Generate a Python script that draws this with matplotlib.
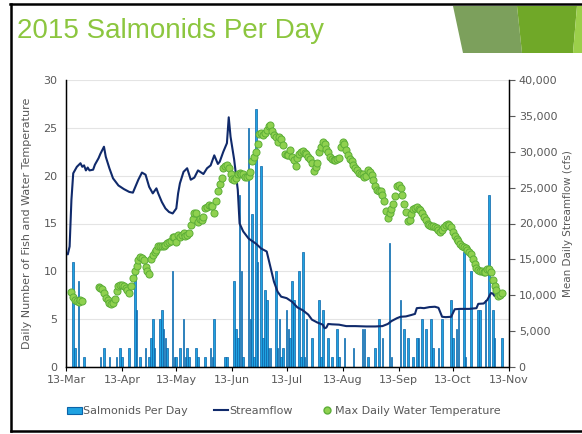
import numpy as np
import pandas as pd
import matplotlib
matplotlib.use("Agg")
import matplotlib.pyplot as plt
import matplotlib.dates as mdates
from matplotlib.patches import Patch, Polygon
from matplotlib.lines import Line2D

# days counted from 13 March 2015
fish_day = [4, 5, 7, 10, 19, 21, 24, 28, 30, 31, 35, 38, 39, 41, 44, 46, 47, 48, 49,
            52, 53, 54, 55, 56, 59, 60, 61, 63, 65, 66, 67, 68, 72, 73, 77, 80, 81, 82,
            88, 89, 93, 94, 95, 96, 97, 98, 101, 102, 103, 104, 105, 106, 108, 109, 110,
            111, 112, 113, 116, 117, 118, 119, 120, 122, 123, 124, 125, 126, 129, 130,
            131, 132, 133, 136, 140, 141, 142, 145, 147, 150, 151, 154, 159, 164, 165,
            167, 171, 173, 175, 179, 180, 185, 187, 189, 192, 194, 195, 197, 199, 202,
            203, 206, 208, 213, 214, 216, 217, 220, 221, 224, 228, 229, 232, 234, 236,
            237, 241]
fish_count = [11, 2, 9, 1, 1, 2, 1, 1, 2, 1, 2, 10, 6, 1, 2, 1, 3, 5, 2,
              5, 6, 4, 3, 2, 10, 1, 1, 2, 5, 1, 2, 1, 2, 1, 1, 2, 1, 5,
              1, 1, 9, 4, 3, 18, 10, 1, 25, 5, 16, 1, 27, 11, 21, 3, 8,
              7, 2, 2, 10, 2, 5, 1, 2, 6, 4, 3, 9, 7, 10, 1,
              12, 1, 5, 3, 7, 1, 6, 3, 1, 4, 1, 3, 2, 4, 4,
              1, 2, 5, 3, 13, 1, 7, 4, 3, 1, 3, 3, 5, 4, 5,
              2, 2, 5, 7, 3, 4, 6, 12, 1, 10, 6, 6, 7, 18, 6,
              3, 3]

flow_day = [0, 1, 2, 3, 4, 6, 8, 9, 10, 11, 12, 13, 15, 16, 18, 19, 21, 22, 24, 26,
            29, 32, 35, 37, 38, 40, 42, 44, 46, 48, 50, 51, 53, 55, 57, 59, 61, 62,
            63, 65, 67, 69, 71, 73, 76, 78, 80, 82, 84, 85, 87, 89, 90, 91, 93, 95,
            96, 98, 101, 105, 108, 111, 113, 115, 117, 119, 122, 125, 128, 131, 134,
            136, 139, 142, 143, 144, 145, 147, 151, 155, 160, 166, 171, 175, 178,
            180, 183, 185, 188, 191, 193, 194, 196, 198, 201, 204, 206, 208, 210,
            213, 215, 218, 220, 223, 227, 228, 231, 233, 235, 236, 237, 238]
flow_cfs = [15900, 15700, 16800, 23300, 27000, 27900, 28400, 27900, 28100, 27400,
            27800, 27400, 27500, 28200, 29100, 29700, 30700, 29300, 27700, 26300,
            25300, 24800, 24400, 24300, 24900, 26100, 27100, 26800, 25100, 24200,
            24900, 24200, 23000, 22100, 21600, 21400, 22100, 24200, 25600, 27200,
            27700, 26100, 26400, 27400, 26900, 27700, 28100, 29500, 28300, 28600,
            30000, 31200, 34800, 32100, 28900, 24700, 20000, 18900, 17900, 17200,
            16500, 16100, 14000, 11900, 10500, 9800, 9600, 9100, 8300, 7900, 7300,
            6600, 6200, 5900, 5400, 5500, 6000, 5950, 5900, 5700, 5700, 5650, 5650,
            5700, 6000, 6400, 6800, 7000, 7050, 7250, 7400, 8200, 8250, 8200, 8350,
            8400, 8250, 7000, 6950, 7000, 8050, 8100, 8100, 8100, 8200, 8800, 8850,
            9350, 10300, 10250, 9900, 9950]

temp_day = list(range(3, 10)) + list(range(18, 242))
temp_val = [7.8, 7.3, 7.0, 6.9, 6.8, 7.0, 6.9,
            8.4, 8.3, 8.2, 7.7, 7.2, 7.0, 6.7, 6.6, 6.7, 7.1, 7.9, 8.5, 8.6, 8.6, 8.5,
            8.3, 8.0, 7.7, 8.5, 9.3, 10.0, 10.6, 11.2, 11.5, 11.4, 11.2, 10.5, 10.0,
            9.7, 11.3, 11.7, 12.0, 12.2, 12.6, 12.6, 12.7, 12.6, 12.8, 13.0, 13.1,
            13.2, 13.6, 13.6, 13.1, 13.8, 13.6, 13.8, 14.0, 13.7, 13.8, 14.0, 14.8,
            15.5, 16.1, 16.1, 15.2, 15.5, 15.4, 15.7, 16.6, 16.7, 16.9, 16.8, 16.8,
            16.1, 17.4, 18.4, 19.1, 19.8, 20.8, 21.0, 21.1, 20.8, 20.2, 19.7, 19.5,
            19.8, 20.2, 20.3, 20.2, 20.2, 19.9, 19.9, 20.0, 20.4, 21.5, 22.0, 22.5,
            23.3, 24.4, 24.5, 24.2, 24.5, 24.8, 25.2, 25.3, 24.7, 24.3, 24.0, 23.5,
            24.0, 23.8, 23.2, 22.3, 22.2, 22.2, 22.7, 22.0, 21.6, 21.0, 21.8, 22.3,
            22.5, 22.6, 22.4, 22.3, 21.9, 21.7, 21.3, 20.5, 20.9, 21.3, 22.5, 23.0,
            23.5, 23.3, 22.8, 22.5, 22.0, 21.7, 21.6, 21.6, 21.7, 21.8, 23.0, 23.5,
            23.3, 22.7, 22.2, 21.7, 21.5, 21.1, 20.8, 20.6, 20.3, 20.2, 20.2, 19.9,
            20.0, 20.6, 20.4, 20.1, 19.5, 18.9, 18.5, 18.4, 18.4, 18.0, 17.4, 16.3,
            15.6, 16.1, 16.5, 17.0, 17.9, 18.9, 19.0, 18.7, 18.0, 17.0, 16.2, 15.3,
            15.4, 16.0, 16.5, 16.6, 16.7, 16.5, 16.4, 16.1, 15.7, 15.4, 15.0, 14.8,
            14.7, 14.7, 14.6, 14.5, 14.3, 14.1, 14.3, 14.6, 14.8, 14.9, 14.8, 14.6,
            14.1, 13.7, 13.4, 13.2, 12.9, 12.7, 12.5, 12.4, 12.2, 12.0, 11.8, 11.3,
            10.8, 10.4, 10.1, 10.0, 10.0, 9.9, 9.9, 10.2, 10.2, 9.9, 9.1, 8.5, 8.0,
            7.4, 7.5, 7.7]

start = pd.Timestamp("2015-03-13")
end = pd.Timestamp("2015-11-13")
fish_dates = start + pd.to_timedelta(fish_day, unit="D")
flow_dates = start + pd.to_timedelta(flow_day, unit="D")
temp_dates = start + pd.to_timedelta(temp_day, unit="D")

grey = "#595959"
bar_face = "#1FA2E1"
bar_edge = "#0B63A8"
flow_col = "#102A6B"
dot_face = "#8FD14F"
dot_edge = "#5DAE38"

plt.rcParams["font.family"] = ["DejaVu Sans"]

fig = plt.figure(figsize=(5.82, 4.34), dpi=100)
ax = fig.add_axes([66 / 582, 1 - 367 / 434, (509 - 66) / 582, (367 - 80) / 434])

ax.bar(fish_dates, fish_count, width=0.9, color=bar_face, edgecolor=bar_edge,
       linewidth=0.5, zorder=2)
ax.set_ylim(0, 30)
ax.set_yticks(range(0, 31, 5))
ax.yaxis.grid(True, color="#E4E4E4", linewidth=0.8)
ax.set_axisbelow(True)
ax.set_xlim(start, end)
ax.set_xticks(pd.date_range(start, end, freq=pd.DateOffset(months=1)))
ax.xaxis.set_major_formatter(mdates.DateFormatter("%d-%b"))
ax.tick_params(axis="x", colors=grey, labelsize=8, length=3, width=0.8, pad=3)
ax.tick_params(axis="x", color="black")
ax.tick_params(axis="y", colors=grey, labelsize=8, length=0, pad=6)
ax.set_ylabel("Daily Number of Fish and Water Temperature", color=grey, fontsize=8,
              labelpad=8)
for s in ["left", "bottom", "right"]:
    ax.spines[s].set_color("black")
    ax.spines[s].set_linewidth(1.0)
ax.spines["top"].set_visible(False)

ax2 = ax.twinx()
ax2.plot(flow_dates, flow_cfs, color=flow_col, linewidth=1.5)
ax2.set_ylim(0, 40000)
ax2.set_yticks(range(0, 40001, 5000))
ax2.set_yticklabels([f"{v:,}" for v in range(0, 40001, 5000)])
ax2.tick_params(axis="y", colors=grey, labelsize=8, length=4, width=0.8, pad=3)
ax2.set_ylabel("Mean Daily Streamflow (cfs)", color=grey, fontsize=7.5, labelpad=4)
ax2.spines["top"].set_visible(False)
ax2.spines["right"].set_color("black")

ax3 = ax.twinx()
ax3.scatter(temp_dates, temp_val, s=26, color=dot_face, edgecolor=dot_edge,
            linewidth=0.7, zorder=3)
ax3.set_ylim(0, 30)
ax3.axis("off")

# title and slide frame
fig.text(17 / 582, 1 - 38 / 434, "2015 Salmonids Per Day", color="#8CC63F",
         fontsize=20, family=["Liberation Sans", "DejaVu Sans"], va="baseline")


def px(x, y):
    return (x / 582, 1 - y / 434)


fig.add_artist(Polygon([px(453, 6), px(517, 6), px(522, 53), px(463, 53)],
                       closed=True, color="#7CA05C", lw=0))
fig.add_artist(Polygon([px(517, 6), px(577, 6), px(573, 53), px(522, 53)],
                       closed=True, color="#70A828", lw=0))
fig.add_artist(Polygon([px(577, 6), px(582, 6), px(582, 53), px(573, 53)],
                       closed=True, color="#9BCF4A", lw=0))
fig.add_artist(Line2D([10 / 582, 1], [1 - 4 / 434] * 2, color="black", lw=1.8))
fig.add_artist(Line2D([11 / 582] * 2, [1 - 4 / 434, 1 - 431 / 434], color="black", lw=1.8))
fig.add_artist(Line2D([11 / 582, 1], [1 - 431 / 434] * 2, color="black", lw=1.8))

handles = [
    Patch(facecolor=bar_face, edgecolor=bar_edge, linewidth=0.8),
    Line2D([], [], color=flow_col, linewidth=1.5),
    Line2D([], [], marker="o", linestyle="none", markersize=5,
           markerfacecolor=dot_face, markeredgecolor=dot_edge),
]
labels = ["Salmonids Per Day", "Streamflow", "Max Daily Water Temperature"]
fig.legend(handles, labels, loc="center", bbox_to_anchor=(284 / 582, 1 - 411 / 434),
           ncol=3, frameon=False, fontsize=8, labelcolor=grey, handlelength=1.3,
           handleheight=0.6, handletextpad=0.1, columnspacing=2.4)

fig.savefig("out.png", dpi=100)
